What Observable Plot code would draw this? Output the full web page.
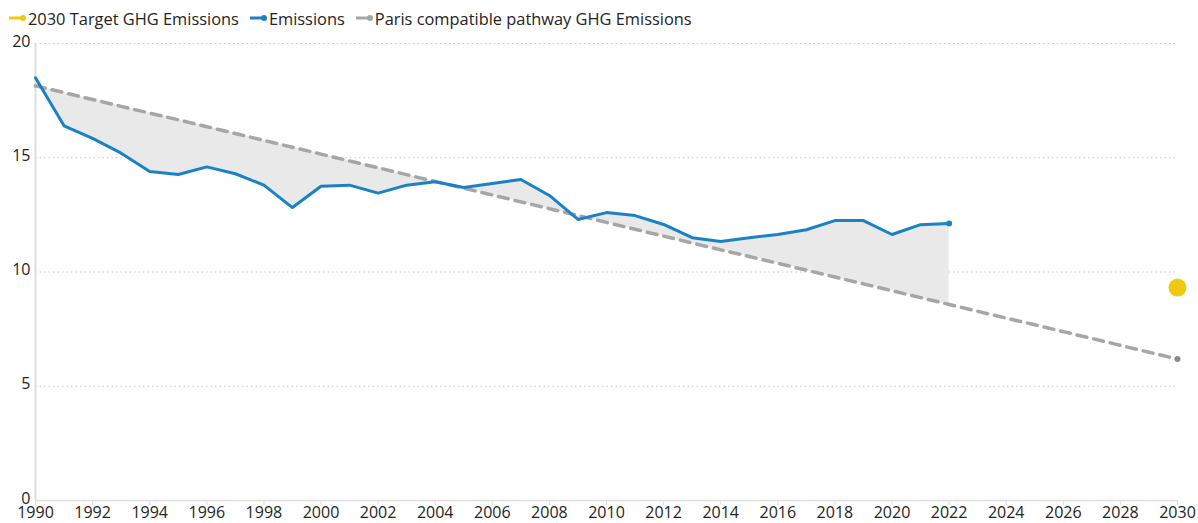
<!DOCTYPE html>
<html>
<head>
<meta charset="utf-8">
<script src="https://cdn.jsdelivr.net/npm/d3@7"></script>
<script src="https://cdn.jsdelivr.net/npm/@observablehq/plot@0.6"></script>
<style>
  body { margin: 0; background: #fff; font-family: "Open Sans", "Noto Sans", sans-serif; }
  #legend { height: 36px; display: flex; align-items: center; padding-left: 9px; font-size: 16.4px; color: #252423; white-space: nowrap; }
  .item { display: flex; align-items: center; margin-right: 11px; }
  .item svg { margin-right: 1px; }
</style>
</head>
<body>
<div id="legend"></div>
<div id="chart"></div>
<script>
// ---- data ----
const years = d3.range(1990, 2023);
const emissions = [18.5, 16.4, 15.85, 15.2, 14.4, 14.27, 14.6, 14.3, 13.8, 12.82,
  13.75, 13.8, 13.45, 13.8, 13.95, 13.7, 13.87, 14.05, 13.35, 12.3,
  12.6, 12.47, 12.08, 11.5, 11.33, 11.5, 11.64, 11.85, 12.25, 12.25,
  11.64, 12.07, 12.12];
const pathwayYears = d3.range(1990, 2031);
const pathway = [18.15, 17.85, 17.55, 17.25, 16.95, 16.66, 16.36, 16.06, 15.76, 15.46,
  15.16, 14.86, 14.56, 14.26, 13.96, 13.67, 13.37, 13.07, 12.77, 12.47,
  12.17, 11.87, 11.57, 11.27, 10.97, 10.68, 10.38, 10.08, 9.78, 9.48,
  9.18, 8.88, 8.58, 8.28, 7.98, 7.69, 7.39, 7.09, 6.79, 6.49, 6.19];
const targetYear = [2030];
const targetValue = [9.32];
const xTicks = d3.range(1990, 2031, 2);
const yTicks = [0, 5, 10, 15, 20];
const seriesNames = ["2030 Target GHG Emissions", "Emissions", "Paris compatible pathway GHG Emissions"];
const seriesColors = ["#F2C80F", "#1A82C4", "#A6A6A6"];

// ---- tables ----
const emData = years.map((y, i) => ({year: y, value: emissions[i]}));
const pathData = pathwayYears.map((y, i) => ({year: y, value: pathway[i]}));
const areaData = years.map((y, i) => ({year: y, emis: emissions[i], path: pathway[pathwayYears.indexOf(y)]}));
const targetData = targetYear.map((y, i) => ({year: y, value: targetValue[i]}));

// ---- legend ----
const legend = document.getElementById("legend");
seriesNames.forEach((name, i) => {
  const it = document.createElement("div");
  it.className = "item";
  it.innerHTML = `<svg width="18" height="8"><line x1="0" y1="4" x2="14" y2="4" stroke="${seriesColors[i]}" stroke-width="3"/><circle cx="14" cy="4" r="3" fill="${seriesColors[i]}"/></svg><span>${name}</span>`;
  legend.appendChild(it);
});

// ---- chart ----
const chart = Plot.plot({
  width: 1198,
  height: 487,
  marginTop: 7,
  marginBottom: 23,
  marginLeft: 35,
  marginRight: 21,
  style: {fontFamily: "'Open Sans', 'Noto Sans', sans-serif", fontSize: "16px", color: "#252423", background: "#fff", overflow: "visible"},
  x: {domain: [1990, 2030], label: null},
  y: {domain: [0, 20], label: null},
  marks: [
    Plot.gridY(yTicks.filter(d => d > 0), {stroke: "#c6c6c6", strokeOpacity: 1, strokeDasharray: "1.5,3"}),
    Plot.areaY(areaData, {x: "year", y1: "emis", y2: "path", fill: "#e9e9e9"}),
    Plot.ruleY([0], {stroke: "#dedede", strokeWidth: 1.5}),
    Plot.ruleX([1990], {stroke: "#dedede", strokeWidth: 2}),
    Plot.axisX({ticks: xTicks, tickFormat: d => String(d), tickSize: 5, tickPadding: 1, stroke: "#dedede", fill: "#252423", label: null}),
    Plot.axisY({ticks: yTicks, tickSize: 0, tickPadding: 5, dy: -2, fill: "#252423", label: null}),
    Plot.line(pathData, {x: "year", y: "value", stroke: seriesColors[2], strokeWidth: 3.5, strokeDasharray: "10,7"}),
    Plot.dot(pathData.slice(-1), {x: "year", y: "value", r: 3, fill: "#8a8a8a"}),
    Plot.line(emData, {x: "year", y: "value", stroke: seriesColors[1], strokeWidth: 3}),
    Plot.dot(emData.slice(-1), {x: "year", y: "value", r: 3, fill: seriesColors[1]}),
    Plot.dot(targetData, {x: "year", y: "value", r: 9, fill: seriesColors[0]})
  ]
});
document.getElementById("chart").appendChild(chart);
</script>
</body>
</html>
